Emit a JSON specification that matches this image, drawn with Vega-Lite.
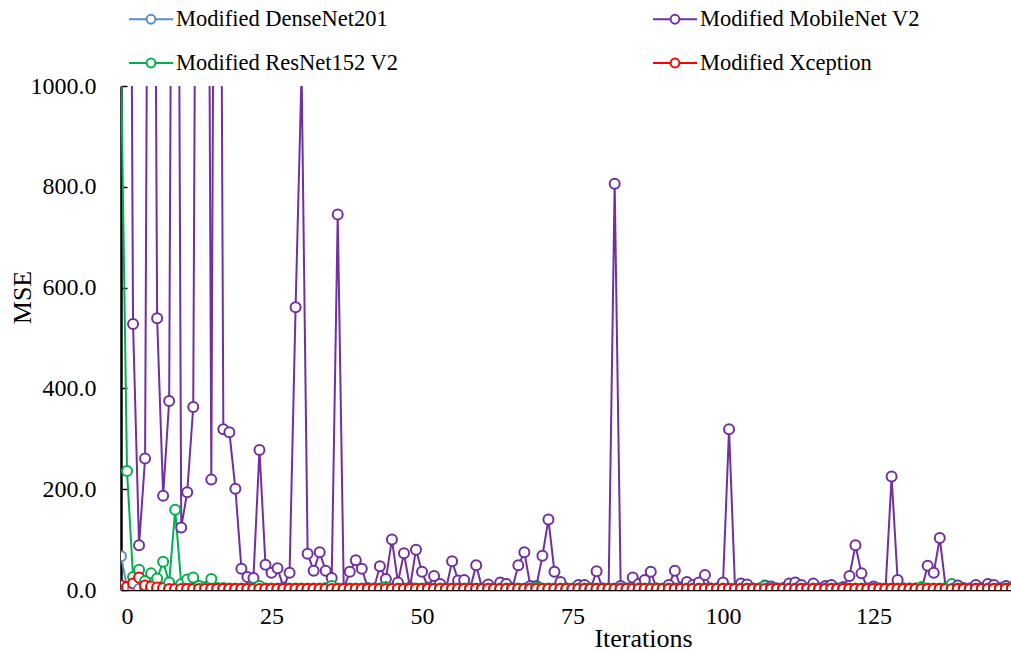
{
 "$schema": "https://vega.github.io/schema/vega-lite/v6.json",
 "width": 891, "height": 504,
 "autosize": "none",
 "padding": {"left": 121, "top": 86, "right": 0, "bottom": 61},
 "background": "white",
 "data": {"values": [
{"i":0,"d":67,"m":3000,"r":1050,"x":9},
{"i":1,"d":6,"m":3000,"r":236,"x":6},
{"i":2,"d":3,"m":528,"r":26,"x":13},
{"i":3,"d":2,"m":89,"r":40,"x":25},
{"i":4,"d":2,"m":261,"r":18,"x":9},
{"i":5,"d":2,"m":3000,"r":33,"x":7},
{"i":6,"d":2,"m":539,"r":23,"x":5},
{"i":7,"d":2,"m":187,"r":56,"x":4},
{"i":8,"d":2,"m":375,"r":15,"x":2},
{"i":9,"d":2,"m":3000,"r":159,"x":2},
{"i":10,"d":2,"m":124,"r":12,"x":2},
{"i":11,"d":2,"m":194,"r":21,"x":2},
{"i":12,"d":2,"m":363,"r":25,"x":2},
{"i":13,"d":2,"m":3000,"r":8,"x":2},
{"i":14,"d":2,"m":3000,"r":6,"x":2},
{"i":15,"d":2,"m":219,"r":22,"x":2},
{"i":16,"d":2,"m":3000,"r":4,"x":2},
{"i":17,"d":2,"m":319,"r":4,"x":2},
{"i":18,"d":2,"m":313,"r":3,"x":2},
{"i":19,"d":2,"m":201,"r":3,"x":2},
{"i":20,"d":2,"m":42,"r":3,"x":2},
{"i":21,"d":2,"m":26,"r":3,"x":2},
{"i":22,"d":2,"m":24,"r":4,"x":2},
{"i":23,"d":2,"m":278,"r":8,"x":2},
{"i":24,"d":2,"m":50,"r":3,"x":2},
{"i":25,"d":2,"m":34,"r":3,"x":2},
{"i":26,"d":2,"m":43,"r":3,"x":2},
{"i":27,"d":2,"m":5,"r":3,"x":2},
{"i":28,"d":2,"m":34,"r":3,"x":2},
{"i":29,"d":2,"m":561,"r":3,"x":2},
{"i":30,"d":2,"m":1030,"r":3,"x":2},
{"i":31,"d":2,"m":72,"r":3,"x":2},
{"i":32,"d":2,"m":38,"r":3,"x":2},
{"i":33,"d":2,"m":75,"r":3,"x":2},
{"i":34,"d":2,"m":38,"r":4,"x":2},
{"i":35,"d":2,"m":24,"r":8,"x":2},
{"i":36,"d":2,"m":745,"r":3,"x":2},
{"i":37,"d":2,"m":3,"r":3,"x":2},
{"i":38,"d":2,"m":36,"r":3,"x":2},
{"i":39,"d":2,"m":59,"r":3,"x":2},
{"i":40,"d":2,"m":42,"r":3,"x":2},
{"i":41,"d":2,"m":4,"r":3,"x":2},
{"i":42,"d":2,"m":3,"r":3,"x":2},
{"i":43,"d":2,"m":47,"r":3,"x":2},
{"i":44,"d":2,"m":22,"r":6,"x":2},
{"i":45,"d":2,"m":100,"r":3,"x":2},
{"i":46,"d":2,"m":15,"r":3,"x":2},
{"i":47,"d":2,"m":73,"r":3,"x":2},
{"i":48,"d":2,"m":5,"r":3,"x":2},
{"i":49,"d":2,"m":80,"r":3,"x":2},
{"i":50,"d":2,"m":36,"r":3,"x":2},
{"i":51,"d":2,"m":5,"r":3,"x":2},
{"i":52,"d":2,"m":28,"r":3,"x":2},
{"i":53,"d":2,"m":12,"r":3,"x":2},
{"i":54,"d":2,"m":3,"r":3,"x":2},
{"i":55,"d":2,"m":57,"r":3,"x":2},
{"i":56,"d":2,"m":19,"r":3,"x":2},
{"i":57,"d":2,"m":20,"r":3,"x":2},
{"i":58,"d":2,"m":3,"r":3,"x":2},
{"i":59,"d":2,"m":49,"r":3,"x":2},
{"i":60,"d":2,"m":3,"r":3,"x":2},
{"i":61,"d":2,"m":11,"r":3,"x":2},
{"i":62,"d":2,"m":3,"r":3,"x":2},
{"i":63,"d":2,"m":15,"r":3,"x":2},
{"i":64,"d":2,"m":12,"r":3,"x":2},
{"i":65,"d":2,"m":4,"r":3,"x":2},
{"i":66,"d":2,"m":49,"r":3,"x":2},
{"i":67,"d":2,"m":75,"r":3,"x":2},
{"i":68,"d":2,"m":8,"r":3,"x":2},
{"i":69,"d":2,"m":8,"r":5,"x":2},
{"i":70,"d":2,"m":68,"r":3,"x":2},
{"i":71,"d":2,"m":140,"r":3,"x":2},
{"i":72,"d":2,"m":36,"r":3,"x":2},
{"i":73,"d":2,"m":16,"r":3,"x":2},
{"i":74,"d":2,"m":3,"r":3,"x":2},
{"i":75,"d":2,"m":2,"r":3,"x":2},
{"i":76,"d":2,"m":10,"r":3,"x":2},
{"i":77,"d":2,"m":10,"r":3,"x":2},
{"i":78,"d":2,"m":3,"r":3,"x":2},
{"i":79,"d":2,"m":37,"r":3,"x":2},
{"i":80,"d":2,"m":3,"r":3,"x":2},
{"i":81,"d":2,"m":3,"r":3,"x":2},
{"i":82,"d":2,"m":806,"r":3,"x":2},
{"i":83,"d":2,"m":8,"r":3,"x":2},
{"i":84,"d":2,"m":3,"r":3,"x":2},
{"i":85,"d":2,"m":25,"r":3,"x":2},
{"i":86,"d":2,"m":12,"r":3,"x":2},
{"i":87,"d":2,"m":20,"r":3,"x":2},
{"i":88,"d":2,"m":36,"r":3,"x":2},
{"i":89,"d":2,"m":3,"r":3,"x":2},
{"i":90,"d":2,"m":2,"r":3,"x":2},
{"i":91,"d":2,"m":10,"r":3,"x":2},
{"i":92,"d":2,"m":38,"r":3,"x":2},
{"i":93,"d":2,"m":5,"r":3,"x":2},
{"i":94,"d":2,"m":16,"r":3,"x":2},
{"i":95,"d":2,"m":10,"r":3,"x":2},
{"i":96,"d":2,"m":15,"r":3,"x":2},
{"i":97,"d":2,"m":30,"r":3,"x":2},
{"i":98,"d":2,"m":3,"r":3,"x":2},
{"i":99,"d":2,"m":3,"r":3,"x":2},
{"i":100,"d":2,"m":15,"r":3,"x":2},
{"i":101,"d":2,"m":319,"r":3,"x":2},
{"i":102,"d":2,"m":2,"r":3,"x":2},
{"i":103,"d":2,"m":13,"r":3,"x":2},
{"i":104,"d":2,"m":11,"r":3,"x":2},
{"i":105,"d":2,"m":3,"r":3,"x":2},
{"i":106,"d":2,"m":3,"r":3,"x":2},
{"i":107,"d":2,"m":9,"r":8,"x":2},
{"i":108,"d":2,"m":7,"r":3,"x":2},
{"i":109,"d":2,"m":3,"r":3,"x":2},
{"i":110,"d":2,"m":4,"r":3,"x":2},
{"i":111,"d":2,"m":13,"r":3,"x":2},
{"i":112,"d":2,"m":15,"r":3,"x":2},
{"i":113,"d":2,"m":10,"r":3,"x":2},
{"i":114,"d":2,"m":3,"r":3,"x":2},
{"i":115,"d":2,"m":13,"r":3,"x":2},
{"i":116,"d":2,"m":3,"r":3,"x":2},
{"i":117,"d":2,"m":8,"r":3,"x":2},
{"i":118,"d":2,"m":10,"r":3,"x":2},
{"i":119,"d":2,"m":3,"r":3,"x":2},
{"i":120,"d":2,"m":6,"r":3,"x":2},
{"i":121,"d":2,"m":28,"r":3,"x":2},
{"i":122,"d":2,"m":89,"r":3,"x":2},
{"i":123,"d":2,"m":33,"r":3,"x":2},
{"i":124,"d":2,"m":3,"r":3,"x":2},
{"i":125,"d":2,"m":7,"r":3,"x":2},
{"i":126,"d":2,"m":3,"r":3,"x":2},
{"i":127,"d":2,"m":3,"r":3,"x":2},
{"i":128,"d":2,"m":225,"r":3,"x":2},
{"i":129,"d":2,"m":20,"r":3,"x":2},
{"i":130,"d":2,"m":3,"r":3,"x":2},
{"i":131,"d":2,"m":3,"r":3,"x":2},
{"i":132,"d":2,"m":3,"r":3,"x":2},
{"i":133,"d":2,"m":3,"r":6,"x":2},
{"i":134,"d":2,"m":48,"r":3,"x":2},
{"i":135,"d":2,"m":34,"r":3,"x":2},
{"i":136,"d":2,"m":103,"r":3,"x":2},
{"i":137,"d":2,"m":3,"r":4,"x":2},
{"i":138,"d":2,"m":3,"r":12,"x":2},
{"i":139,"d":2,"m":9,"r":3,"x":2},
{"i":140,"d":2,"m":4,"r":3,"x":2},
{"i":141,"d":2,"m":3,"r":3,"x":2},
{"i":142,"d":2,"m":10,"r":3,"x":2},
{"i":143,"d":2,"m":4,"r":3,"x":2},
{"i":144,"d":2,"m":12,"r":3,"x":2},
{"i":145,"d":2,"m":10,"r":3,"x":2},
{"i":146,"d":2,"m":4,"r":3,"x":2},
{"i":147,"d":2,"m":8,"r":3,"x":2},
{"i":148,"d":2,"m":5,"r":3,"x":2}
 ]},
 "transform": [{"fold": ["d","m","r","x"], "as": ["s","v"]}],
 "encoding": {
   "x": {"field":"i","type":"quantitative","scale":{"domain":[0,148],"nice":false,"zero":false},
     "axis":{"values":[0,25,50,75,100,125],"grid":false,"ticks":false,"labelFontSize":24,"labelPadding":14,"labelColor":"black","domainColor":"black","domainWidth":1.5,
       "title":"Iterations","titleFontSize":26,"titleFontWeight":"normal","titleColor":"black","titleX":522,"titleY":56,"titleBaseline":"alphabetic","titleAlign":"center"}},
   "y": {"field":"v","type":"quantitative","scale":{"domain":[0,1000],"nice":false},
     "axis":{"values":[0,200,400,600,800,1000],"format":".1f","grid":false,"tickSize":-6,"tickColor":"black","tickWidth":1.5,"labelFontSize":24,"labelPadding":31,"labelColor":"black","domainColor":"black","domainWidth":2.5,
       "title":"MSE","titleFontSize":26,"titleFontWeight":"normal","titleColor":"black","titleX":-99,"titleY":211,"titleAngle":-90,"titleBaseline":"middle","titleAlign":"center"}},
   "color": {"field":"s","type":"nominal","scale":{"domain":["d","r","m","x"],"range":["#5B8CC8","#00B050","#7030A0","#FF0000"]},
     "legend":{"orient":"none","legendX":7,"legendY":-90,"columns":2,"columnPadding":250,"rowPadding":9,
       "labelExpr":"{'d':'Modified DenseNet201','m':'Modified MobileNet V2','r':'Modified ResNet152 V2','x':'Modified Xception'}[datum.value]",
       "labelFontSize":22.5,"labelColor":"black","labelLimit":0,"labelOffset":2,"title":null,
       "symbolType":"M-1,0H-0.2M0.2,0H1M0.2,0A0.2,0.2,0,1,1,-0.2,0A0.2,0.2,0,1,1,0.2,0","symbolSize":1936,"symbolStrokeWidth":2,"symbolFillColor":"white"}}
 },
 "layer": [
   {"mark":{"type":"line","clip":true,"strokeWidth":2}},
   {"mark":{"type":"point","clip":true,"filled":false,"fill":"white","size":100,"strokeWidth":2,"opacity":1}}
 ],
 "config": {"view":{"stroke":null},"font":"Liberation Serif"}
}
